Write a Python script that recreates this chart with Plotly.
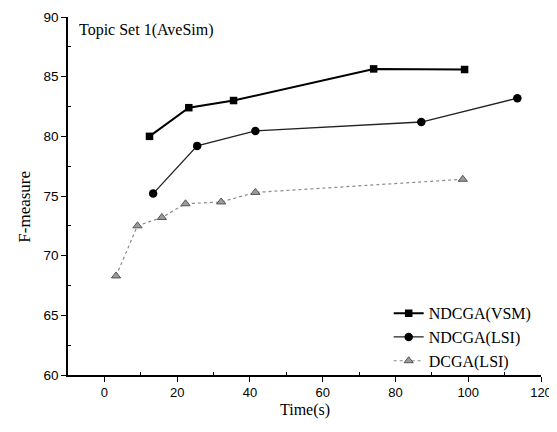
import plotly.graph_objects as go

vsm_x = [12.4, 23.2, 35.5, 74.0, 99.0]
vsm_y = [80.0, 82.4, 83.0, 85.65, 85.6]
lsi_x = [13.4, 25.5, 41.5, 87.1, 113.5]
lsi_y = [75.2, 79.2, 80.45, 81.2, 83.2]
dcga_x = [3.2, 9.1, 15.8, 22.3, 32.1, 41.5, 98.5]
dcga_y = [68.3, 72.5, 73.2, 74.35, 74.5, 75.3, 76.4]

serif = "Liberation Serif, Times New Roman, serif"
sans = "Liberation Sans, Arial, sans-serif"

fig = go.Figure()
fig.add_trace(go.Scatter(x=vsm_x, y=vsm_y, mode="lines+markers", name="NDCGA(VSM)",
                         line=dict(color="black", width=2),
                         marker=dict(symbol="square", size=7.5, color="black")))
fig.add_trace(go.Scatter(x=lsi_x, y=lsi_y, mode="lines+markers", name="NDCGA(LSI)",
                         line=dict(color="#222222", width=1.3),
                         marker=dict(symbol="circle", size=8.5, color="black")))
fig.add_trace(go.Scatter(x=dcga_x, y=dcga_y, mode="lines+markers", name="DCGA(LSI)",
                         line=dict(color="#8a8a8a", width=1.2, dash="dot"),
                         marker=dict(symbol="triangle-up", size=8, color="#9a9a9a",
                                     line=dict(color="#555555", width=1))))

# the page body has an 8px default margin, so the figure is sized to fit inside it
fig.update_layout(
    width=549, height=424,
    margin=dict(l=60, r=16, t=9, b=57),
    plot_bgcolor="white", paper_bgcolor="white",
    showlegend=True,
    legend=dict(x=0.678, y=0.22, xanchor="left", yanchor="top",
                font=dict(family=serif, size=16, color="black"),
                bgcolor="rgba(0,0,0,0)", tracegroupgap=0),
    annotations=[
        dict(text="Topic Set 1(AveSim)", x=0.02, y=0.995, xref="paper", yref="paper",
             xanchor="left", yanchor="top", showarrow=False,
             font=dict(family=serif, size=16, color="black")),
        dict(text="F-measure", x=-0.091, y=0.47, xref="paper", yref="paper",
             xanchor="center", yanchor="middle", textangle=-90, showarrow=False,
             font=dict(family=serif, size=17, color="black")),
        dict(text="Time(s)", x=0.5, y=-0.098, xref="paper", yref="paper",
             xanchor="center", yanchor="middle", showarrow=False,
             font=dict(family=serif, size=16, color="black")),
    ],
)
fig.update_xaxes(range=[-10, 120], tickvals=[0, 20, 40, 60, 80, 100, 120], automargin=False,
                 showline=True, linecolor="black", linewidth=1.5, mirror=False,
                 ticks="outside", ticklen=5, tickcolor="black", showgrid=False, zeroline=False,
                 minor=dict(tickvals=[10, 30, 50, 70, 90, 110], ticks="inside", ticklen=3, tickcolor="black"),
                 tickfont=dict(family=sans, size=13, color="black"))
fig.update_yaxes(range=[60, 90], tickvals=[60, 65, 70, 75, 80, 85, 90], automargin=False,
                 showline=True, linecolor="black", linewidth=1.5, mirror=False,
                 ticks="outside", ticklen=5, tickcolor="black", showgrid=False, zeroline=False,
                 minor=dict(tickvals=[62.5, 67.5, 72.5, 77.5, 82.5, 87.5], ticks="inside", ticklen=3, tickcolor="black"),
                 tickfont=dict(family=sans, size=13.5, color="black"))

fig.write_html("out.html")
